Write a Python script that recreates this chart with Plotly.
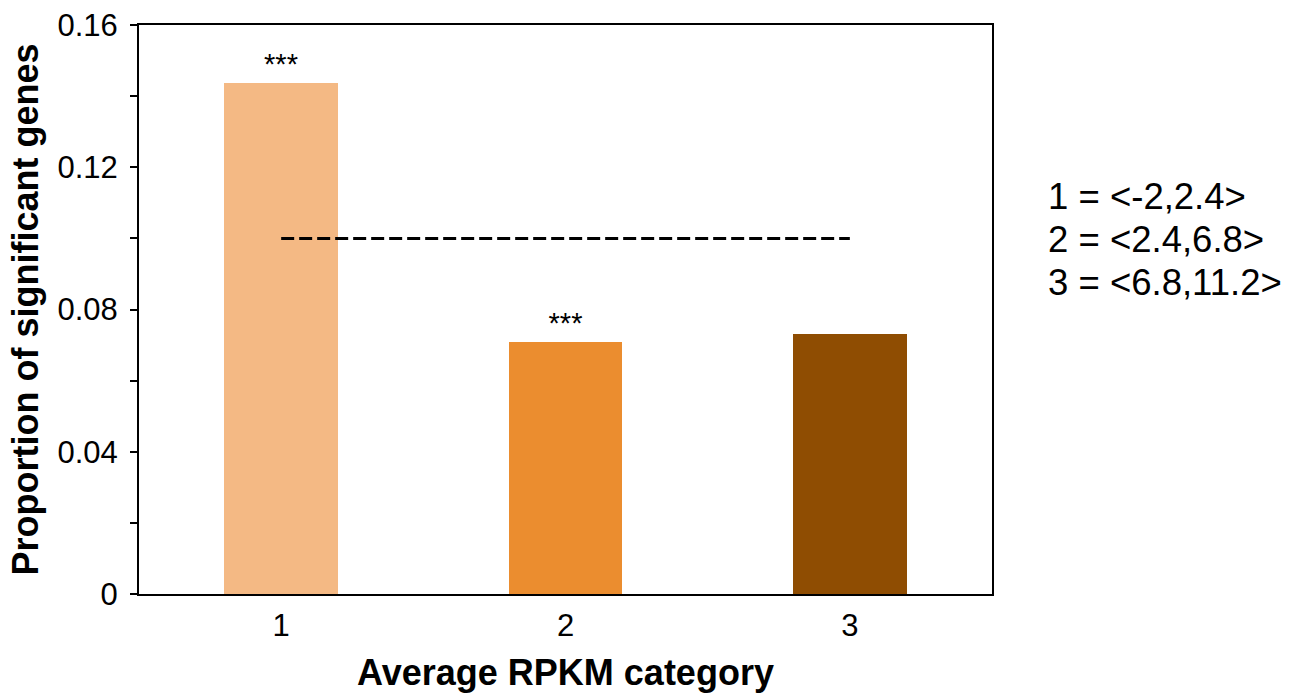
import plotly.graph_objects as go

categories = ["1", "2", "3"]
proportions = [0.1437, 0.0709, 0.0731]
bar_colors = ["#F4B984", "#EB8D2F", "#8F4D02"]
significance = ["***", "***", ""]
baseline = 0.1
y_tick_vals = [0, 0.04, 0.08, 0.12, 0.16]
y_tick_text = ["0", "0.04", "0.08", "0.12", "0.16"]
legend_lines = ["1 = <-2,2.4>", "2 = <2.4,6.8>", "3 = <6.8,11.2>"]

xpos = [1, 2, 3]

fig = go.Figure()
fig.add_trace(go.Bar(
    x=xpos, y=proportions, width=0.4,
    marker=dict(color=bar_colors, line=dict(width=0)),
    text=significance, textposition="outside",
    textfont=dict(family="Liberation Sans, Arial", size=29, color="black"),
    cliponaxis=False, showlegend=False,
))
fig.add_trace(go.Scatter(
    x=[xpos[0], xpos[-1]], y=[baseline, baseline], mode="lines",
    line=dict(color="black", width=3, dash="13px,5px"),
    showlegend=False,
))

for i, line in enumerate(legend_lines):
    fig.add_annotation(
        xref="paper", yref="paper", x=1.063, y=0.699 - i * 0.0756,
        xanchor="left", yanchor="middle", text=line, showarrow=False,
        font=dict(family="Liberation Sans, Arial", size=36.5, color="black"),
    )

fig.update_layout(
    width=1310, height=694,
    margin=dict(l=139, r=318, t=25, b=100),
    plot_bgcolor="white", paper_bgcolor="white",
    bargap=0,
    font=dict(family="Liberation Sans, Arial", color="black"),
    xaxis=dict(
        range=[0.5, 3.5], tickvals=xpos, ticktext=categories,
        showline=True, linecolor="black", linewidth=2, mirror=True,
        ticks="", showgrid=False, zeroline=False, automargin=False,
        tickfont=dict(size=31), ticklabelstandoff=3,
        title=dict(text="<b>Average RPKM category</b>", font=dict(size=36), standoff=18),
    ),
    yaxis=dict(
        range=[0, 0.16], tickvals=y_tick_vals, ticktext=y_tick_text,
        showline=True, linecolor="black", linewidth=2, mirror=True,
        ticks="outside", ticklen=7, tickwidth=2, tickcolor="black",
        minor=dict(dtick=0.02, ticks="outside", ticklen=7, tickwidth=1.5, tickcolor="black"),
        showgrid=False, zeroline=False, automargin=False,
        tickfont=dict(size=31), ticklabelstandoff=6,
        title=dict(text="<b>Proportion of significant genes</b>", font=dict(size=36), standoff=8),
    ),
)

fig.write_html("out.html")
